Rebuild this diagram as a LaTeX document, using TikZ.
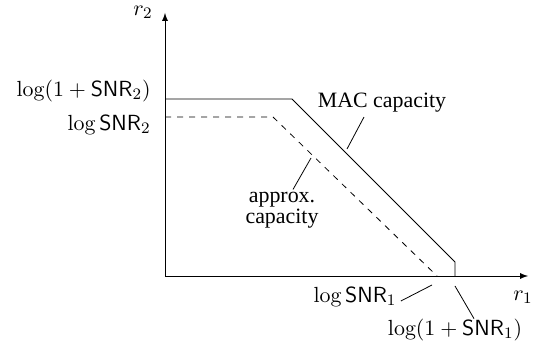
\documentclass[tikz,border=0pt,11pt]{standalone}
\usepackage{amsmath}
\usepackage{fontspec}
\newfontfamily\timesfont{Liberation Serif}
\tikzstyle{axislabel}=[inner sep=1pt]
\tikzstyle{curvelabel}=[font=\timesfont,align=center,inner sep=1pt]
\tikzstyle{pointer}=[thin]

\begin{document}
\begin{tikzpicture}[x=0.5pt,y=0.5pt,>=latex]
    \useasboundingbox (-165,-76) rectangle (370,276);
    % axes
    \coordinate (o) at (0,0);
    \coordinate (xend) at (363,0);
    \coordinate (yend) at (0,263);
    \draw[->] (o) -- (xend);
    \draw[->] (o) -- (yend);
    \node[axislabel] (r1) at (358,-21) {$r_1$};
    \node[axislabel] (r2) at (-22,264) {$r_2$};

    % capacity regions
    \coordinate (m1) at (0,177);
    \coordinate (m2) at (127,177);
    \coordinate (m3) at (290,14);
    \coordinate (m4) at (290,0);
    \coordinate (a1) at (0,159);
    \coordinate (a2) at (108,159);
    \coordinate (a3) at (272,0);
    \draw (m1) -- (m2) -- (m3) -- (m4);
    \draw[dashed] (a1) -- (a2) -- (a3);

    % tick labels
    \node[axislabel,anchor=east] (l2) at (-12,185) {$\log(1+\mathsf{SNR}_2)$};
    \node[axislabel,anchor=east] (s2) at (-12,151) {$\log\mathsf{SNR}_2$};
    \node[axislabel] (s1) at (190,-21) {$\log\mathsf{SNR}_1$};
    \node[axislabel] (l1) at (290,-54) {$\log(1+\mathsf{SNR}_1)$};
    \coordinate (s1p) at (267,-9);
    \coordinate (l1p) at (290,-10);
    \draw[pointer] (s1.east) ++(2,-4) -- (s1p);
    \draw[pointer] (l1.north) ++(19,-2) -- (l1p);

    % curve labels
    \node[curvelabel] (mac) at (217,173) {MAC capacity};
    \node[curvelabel] (apx) at (117,66) {approx.\\[-3pt]capacity};
    \coordinate (macp) at (182,127);
    \coordinate (apxp) at (146,118);
    \draw[pointer] (mac.south) ++(-18,-2) -- (macp);
    \draw[pointer] (apx.north) ++(11,0) -- (apxp);
\end{tikzpicture}
\end{document}
